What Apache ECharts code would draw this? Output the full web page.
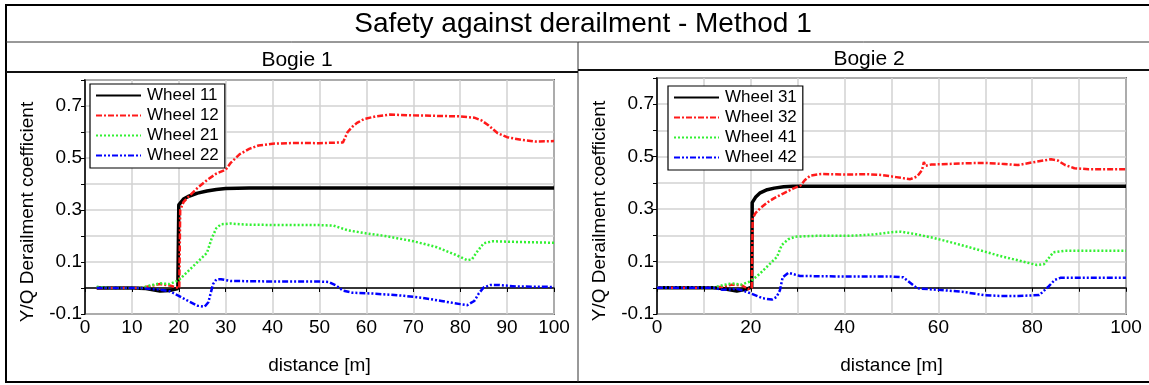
<!DOCTYPE html>
<html>
<head>
<meta charset="utf-8">
<script src="https://cdn.jsdelivr.net/npm/echarts@6.0.0/dist/echarts.min.js"></script>
<style>
  html, body { margin: 0; padding: 0; background: #fff; }
  #chart { width: 1149px; height: 385px; }
</style>
</head>
<body>
<div id="chart"></div>
<script>
// ---- data: [distance m, Y/Q] ----
const bogie1Names = ['Wheel 11', 'Wheel 12', 'Wheel 21', 'Wheel 22'];
const bogie2Names = ['Wheel 31', 'Wheel 32', 'Wheel 41', 'Wheel 42'];

const wheel11 = [[2.5,0],[10,0],[13,-0.002],[16,-0.012],[18,-0.01],[19.8,-0.002],[20,0.32],[21,0.342],[22,0.352],[24,0.365],[26,0.373],[28,0.379],[30,0.383],[35,0.385],[100,0.385]];
const wheel12 = [[2.5,0],[12,0],[14,0.008],[16,0.015],[18,0.01],[19.6,0.002],[20.1,0],[20.3,0.3],[21,0.33],[22,0.35],[24,0.385],[26,0.415],[28,0.44],[30,0.455],[31,0.48],[33,0.515],[35,0.535],[37,0.548],[40,0.555],[45,0.558],[50,0.557],[55,0.56],[55.5,0.58],[56,0.6],[57,0.62],[58,0.635],[59.5,0.65],[62,0.66],[65,0.667],[70,0.664],[75,0.662],[80,0.66],[83,0.655],[84.5,0.645],[86,0.626],[88,0.595],[90,0.58],[93,0.57],[96,0.563],[100,0.565]];
const wheel21 = [[2.5,0.005],[5,0],[12,0],[14,0.01],[16,0.018],[18,0.015],[20,0.03],[22,0.065],[24,0.1],[26,0.135],[27,0.19],[28,0.23],[29,0.245],[31,0.248],[35,0.243],[50,0.242],[53,0.24],[56,0.222],[60,0.21],[64,0.2],[70,0.18],[75,0.157],[79,0.128],[81.5,0.107],[82.5,0.11],[83.5,0.137],[85,0.172],[87,0.18],[90,0.178],[100,0.174]];
const wheel22 = [[2.5,0],[12,0],[14,-0.004],[16,-0.006],[18,-0.012],[20,-0.03],[22,-0.05],[24,-0.068],[25.5,-0.072],[26.3,-0.055],[26.8,-0.02],[27.3,0.015],[28,0.033],[29,0.034],[31,0.027],[40,0.025],[50,0.025],[52,0.023],[53.5,0.01],[55,-0.01],[57,-0.018],[62,-0.022],[68,-0.03],[72,-0.038],[76,-0.05],[80,-0.062],[81.5,-0.066],[83,-0.05],[84,-0.02],[85,0.002],[86.5,0.012],[88,0.012],[92,0.006],[100,0.004]];

const wheel31 = [[0,0],[12,0],[14,-0.003],[17,-0.012],[19,-0.006],[20.2,0.003],[20.3,0.325],[21,0.345],[22,0.362],[23.5,0.374],[25,0.38],[27,0.385],[29,0.387],[100,0.387]];
const wheel32 = [[0,0],[12,0],[14,0.004],[16,0.012],[18,0.01],[19.5,-0.005],[20.2,0],[20.4,0.265],[21,0.285],[22,0.303],[23.5,0.325],[25,0.342],[27,0.36],[29,0.378],[30.6,0.39],[31.5,0.41],[32.7,0.428],[35,0.434],[40,0.432],[45,0.433],[48,0.43],[51,0.422],[54,0.414],[55.5,0.425],[56.5,0.448],[56.9,0.48],[57.2,0.465],[58.5,0.47],[62,0.472],[66,0.475],[70,0.476],[74,0.472],[77,0.468],[80,0.478],[84,0.49],[85.5,0.485],[87,0.468],[89,0.456],[92,0.452],[100,0.452]];
const wheel41 = [[0,0],[12,0],[14,0.01],[16,0.017],[18,0.012],[20,0.025],[22,0.055],[24,0.09],[25.6,0.118],[26.6,0.163],[28,0.185],[29.5,0.195],[34,0.198],[41,0.198],[46,0.203],[50,0.212],[52,0.214],[55,0.205],[59,0.19],[63,0.172],[67.5,0.15],[73,0.122],[78,0.1],[81,0.087],[82.5,0.09],[84.5,0.135],[87,0.141],[100,0.141]];
const wheel42 = [[0,0],[12,0],[14,-0.008],[17,-0.004],[19,-0.015],[20.5,-0.025],[22.5,-0.04],[24.5,-0.045],[25.5,-0.035],[26.2,-0.01],[26.8,0.04],[28,0.057],[30.5,0.045],[40,0.043],[50,0.043],[52.5,0.04],[55.5,-0.002],[60,-0.008],[65,-0.015],[69.7,-0.028],[73,-0.031],[77,-0.031],[81.5,-0.028],[83.5,0.005],[84.8,0.03],[86,0.038],[90,0.038],[100,0.038]];

const FONT = '"Liberation Sans", Arial, sans-serif';

// line looks per wheel slot (black solid, red dash-dot, green dotted, blue dash-dot-dot)
const looks = [
  { color: '#000000', width: 3.5, type: 'solid' },
  { color: '#ff1a1a', width: 2.5, type: [6, 2, 2, 2] },
  { color: '#33f033', width: 2.5, type: [2, 2] },
  { color: '#0000ff', width: 2.5, type: [6, 2, 2, 2, 2, 2] },
];

function makeSeries(name, data, idx, look) {
  return {
    name: name,
    type: 'line',
    xAxisIndex: idx,
    yAxisIndex: idx,
    data: data,
    symbol: 'none',
    lineStyle: { color: look.color, width: look.width, type: look.type },
    itemStyle: { color: look.color },
  };
}

function xAxisOf(idx, labelStep) {
  return {
    gridIndex: idx,
    type: 'value',
    min: 0, max: 100, interval: 10,
    name: 'distance [m]',
    nameLocation: 'middle',
    nameGap: 42,
    nameTextStyle: { fontFamily: FONT, fontSize: 19, color: '#000' },
    axisLine: { lineStyle: { color: '#000', width: 1.5 } },
    axisTick: { show: true, inside: false, length: 4, lineStyle: { color: '#000' } },
    axisLabel: {
      fontFamily: FONT, fontSize: 19, color: '#000', margin: 4,
      formatter: v => (Math.round(v) % labelStep === 0 ? String(Math.round(v)) : ''),
    },
    splitLine: { show: true, lineStyle: { color: '#d2d2d2', width: 1.5 } },
  };
}

function yAxisOf(idx) {
  return {
    gridIndex: idx,
    type: 'value',
    min: -0.1, max: 0.8, interval: 0.1,
    name: 'Y/Q Derailment coefficient',
    nameLocation: 'middle',
    nameGap: 48,
    nameTextStyle: { fontFamily: FONT, fontSize: 19, color: '#000', padding: [0, 30, 0, 0] },
    axisLine: { show: true, lineStyle: { color: '#000', width: 1.5 } },
    axisTick: { show: true, inside: false, length: 4, lineStyle: { color: '#000' } },
    axisLabel: {
      fontFamily: FONT, fontSize: 19, color: '#000', margin: 3,
      formatter: v => {
        const t = Math.round(v * 10);
        return Math.abs(t) % 2 === 1 ? (t / 10).toFixed(1) : '';
      },
    },
    splitLine: { show: true, lineStyle: { color: '#d2d2d2', width: 1.5 } },
  };
}

function legendOf(names, left, top) {
  return {
    data: names,
    orient: 'vertical',
    left: left,
    top: top,
    backgroundColor: '#fff',
    borderColor: '#000',
    borderWidth: 1.2,
    padding: [3, 6, 4, 5],
    itemGap: 3,
    itemWidth: 45,
    itemHeight: 14,
    itemStyle: { opacity: 0 },
    textStyle: { fontFamily: FONT, fontSize: 17, color: '#000', padding: [0, 0, 0, 1] },
  };
}

const chart = echarts.init(document.getElementById('chart'), null, { renderer: 'canvas' });

const option = {
  animation: false,
  backgroundColor: '#fff',
  title: [
    { text: 'Safety against derailment - Method 1', left: 578, top: 5, textAlign: 'center',
      textStyle: { fontFamily: FONT, fontSize: 28, fontWeight: 'normal', color: '#000' } },
    { text: 'Bogie 1', left: 292, top: 45, textAlign: 'center',
      textStyle: { fontFamily: FONT, fontSize: 21, fontWeight: 'normal', color: '#000' } },
    { text: 'Bogie 2', left: 864, top: 44, textAlign: 'center',
      textStyle: { fontFamily: FONT, fontSize: 21, fontWeight: 'normal', color: '#000' } },
  ],
  graphic: [
    { type: 'rect', shape: { x: 6, y: 5, width: 1150, height: 377 },
      style: { fill: 'none', stroke: '#000', lineWidth: 2 }, silent: true },
    { type: 'line', shape: { x1: 6, y1: 42, x2: 1149, y2: 42 }, style: { stroke: '#333', lineWidth: 1 } },
    { type: 'line', shape: { x1: 578, y1: 42, x2: 578, y2: 382 }, style: { stroke: '#333', lineWidth: 1 } },
    { type: 'line', shape: { x1: 6, y1: 72, x2: 578, y2: 72 }, style: { stroke: '#111', lineWidth: 2 } },
    { type: 'line', shape: { x1: 578, y1: 70, x2: 1149, y2: 70 }, style: { stroke: '#111', lineWidth: 2 } },
  ],
  grid: [
    { left: 85, right: 595, top: 80, bottom: 71, show: true, borderColor: '#000', borderWidth: 1.5, backgroundColor: '#fff' },
    { left: 657, right: 23, top: 78, bottom: 71, show: true, borderColor: '#000', borderWidth: 1.5, backgroundColor: '#fff' },
  ],
  xAxis: [xAxisOf(0, 10), xAxisOf(1, 20)],
  yAxis: [yAxisOf(0), yAxisOf(1)],
  legend: [legendOf(bogie1Names, 90, 84), legendOf(bogie2Names, 668, 86)],
  series: [
    makeSeries(bogie1Names[0], wheel11, 0, looks[0]),
    makeSeries(bogie1Names[1], wheel12, 0, looks[1]),
    makeSeries(bogie1Names[2], wheel21, 0, looks[2]),
    makeSeries(bogie1Names[3], wheel22, 0, looks[3]),
    makeSeries(bogie2Names[0], wheel31, 1, looks[0]),
    makeSeries(bogie2Names[1], wheel32, 1, looks[1]),
    makeSeries(bogie2Names[2], wheel41, 1, looks[2]),
    makeSeries(bogie2Names[3], wheel42, 1, looks[3]),
  ],
};

chart.setOption(option);
</script>
</body>
</html>
